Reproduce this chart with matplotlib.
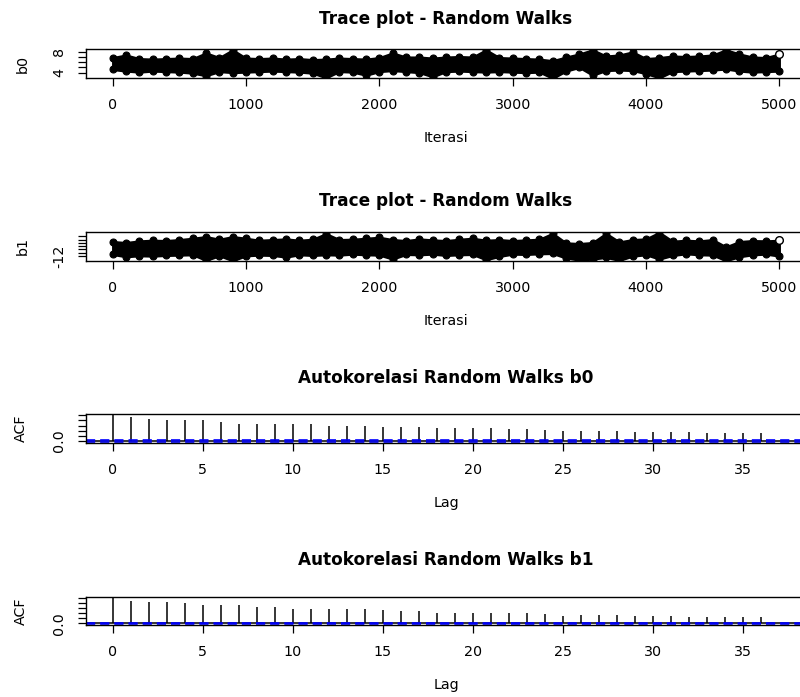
import matplotlib
matplotlib.use("Agg")
import matplotlib.pyplot as plt

# ── Figure geometry (pixels of the 800x697 output) ─────────────────────────
W, H = 800, 697
DPI = 100
AX_LEFT, AX_RIGHT = 86, 806          # plot box runs a little past the right edge

# ── Data ───────────────────────────────────────────────────────────────────
# 5000 draws are far too dense to read one by one; the trace is read as the
# upper and lower edge of the black band every 100 iterations.
ITERATIONS = list(range(0, 5001, 100))

B0_UPPER = [
    6.9, 7.4, 6.7, 6.6, 6.7, 6.8, 6.7, 7.8, 6.9, 8.4,
    6.8, 6.7, 6.8, 6.6, 6.7, 6.5, 6.6, 6.8, 6.7, 6.6,
    6.9, 7.8, 7.0, 7.0, 6.8, 7.0, 7.1, 7.0, 8.4, 6.9,
    6.8, 6.7, 6.6, 6.3, 7.0, 7.6, 8.4, 7.2, 7.4, 8.0,
    6.7, 6.9, 7.2, 7.1, 7.2, 7.4, 8.4, 7.6, 7.0, 6.9,
    7.6,
]
B0_LOWER = [
    4.6, 4.3, 4.1, 4.3, 4.2, 4.1, 3.9, 3.4, 4.2, 4.0,
    4.1, 4.2, 4.3, 4.2, 4.1, 3.9, 3.0, 4.2, 4.1, 3.5,
    4.2, 4.4, 4.2, 4.0, 3.2, 4.2, 4.3, 4.2, 4.1, 4.2,
    4.1, 4.0, 4.1, 2.9, 4.3, 5.0, 3.5, 4.4, 4.5, 4.4,
    3.8, 3.0, 4.2, 4.3, 4.4, 4.5, 4.7, 4.3, 4.1, 4.2,
    4.3,
]

B1_UPPER = [
    -7.6, -7.9, -7.4, -7.2, -7.3, -7.0, -6.6, -6.1, -6.9, -6.1,
    -6.6, -7.2, -7.0, -6.8, -7.2, -6.9, -5.2, -7.0, -6.9, -6.6,
    -6.3, -7.0, -7.3, -6.8, -7.1, -7.3, -6.9, -6.6, -7.2, -7.0,
    -7.3, -7.1, -6.9, -5.1, -8.0, -8.2, -7.9, -5.1, -7.7, -7.0,
    -6.8, -4.8, -7.5, -7.2, -7.4, -7.0, -9.2, -7.6, -7.3, -7.4,
    -7.2,
]
B1_LOWER = [
    -11.5, -12.2, -11.9, -12.0, -11.8, -11.7, -11.6, -13.3, -11.9, -13.4,
    -11.9, -11.7, -11.8, -12.3, -11.6, -11.8, -11.6, -11.7, -11.4, -11.6,
    -11.7, -12.9, -11.5, -11.6, -11.4, -11.8, -11.6, -11.5, -13.1, -12.1,
    -11.4, -11.5, -11.3, -11.2, -12.6, -13.2, -12.9, -12.4, -13.3, -12.0,
    -11.6, -12.9, -11.8, -11.3, -11.6, -11.7, -13.4, -12.2, -11.6, -11.4,
    -12.0,
]

LAGS = list(range(0, 37))
ACF_B0 = [
    1.00, 0.93, 0.87, 0.83, 0.80, 0.80, 0.74, 0.68, 0.68, 0.68,
    0.65, 0.65, 0.59, 0.59, 0.59, 0.53, 0.55, 0.55, 0.50, 0.49,
    0.49, 0.49, 0.45, 0.45, 0.42, 0.37, 0.40, 0.40, 0.40, 0.33,
    0.35, 0.36, 0.33, 0.30, 0.30, 0.30, 0.30,
]
ACF_B1 = [
    1.00, 0.88, 0.84, 0.84, 0.79, 0.73, 0.70, 0.70, 0.63, 0.63,
    0.57, 0.57, 0.55, 0.55, 0.54, 0.51, 0.48, 0.48, 0.41, 0.41,
    0.41, 0.41, 0.39, 0.39, 0.37, 0.29, 0.33, 0.33, 0.33, 0.27,
    0.27, 0.29, 0.23, 0.23, 0.23, 0.23, 0.23,
]
CLIM = 0.028   # 95 % white-noise band

TRACE_XTICKS = [0, 1000, 2000, 3000, 4000, 5000]
B0_YTICKS = [4, 5, 6, 7, 8]
B0_YLABELS = ["4", "", "", "", "8"]
B1_YTICKS = [-12, -11, -10, -9, -8, -7, -6]
B1_YLABELS = ["-12", "", "", "", "", "", ""]
ACF_XTICKS = [0, 5, 10, 15, 20, 25, 30, 35]
ACF_YTICKS = [0.0, 0.2, 0.4, 0.6, 0.8, 1.0]
ACF_YLABELS = ["0.0", "", "", "", "", ""]

TITLE_SIZE = 12.2
LABEL_SIZE = 10.3


def fx(px):
    return px / W


def fy(py):
    return 1 - py / H


def add_box(fig, top, bottom):
    return fig.add_axes([fx(AX_LEFT), fy(bottom), (AX_RIGHT - AX_LEFT) / W,
                         (bottom - top) / H])


def style_axes(ax):
    for s in ax.spines.values():
        s.set_linewidth(1.0)
        s.set_color("black")
    ax.tick_params(direction="out", length=5.8, width=0.9,
                   labelsize=LABEL_SIZE, pad=8.5, colors="black")
    ax.tick_params(axis="y", labelrotation=90)
    for lab in ax.get_yticklabels():
        lab.set_va("center")


def decorate(fig, top, bottom, title, title_base, xlabel, ylabel, ylabel_x):
    fig.text(fx(446), fy(title_base), title, ha="center", va="baseline",
             fontsize=TITLE_SIZE, fontweight="bold")
    fig.text(fx(446), fy(bottom + 64), xlabel, ha="center", va="baseline",
             fontsize=LABEL_SIZE)
    fig.text(fx(ylabel_x), fy((top + bottom) / 2), ylabel, ha="center",
             va="center", rotation=90, fontsize=LABEL_SIZE)


def trace_panel(fig, top, bottom, upper, lower, ylim, yticks, ylabels):
    ax = add_box(fig, top, bottom)
    ax.fill_between(ITERATIONS, lower, upper, facecolor="black",
                    edgecolor="black", linewidth=1.6, joinstyle="round")
    # circles along the edges give the band the lumpy outline of R's points
    for edge in (upper, lower):
        ax.plot(ITERATIONS, edge, linestyle="none", marker="o", ms=5.0,
                mfc="black", mec="black", mew=0.8)
    # last draw shows as an open circle on top of the band
    ax.plot(ITERATIONS[-1:], upper[-1:], linestyle="none", marker="o",
            ms=5.5, mfc="white", mec="black", mew=1.0)
    ax.set_xlim(-200, 5200)
    ax.set_ylim(*ylim)
    ax.set_xticks(TRACE_XTICKS)
    ax.set_xticklabels([str(t) for t in TRACE_XTICKS])
    ax.set_yticks(yticks)
    ax.set_yticklabels(ylabels)
    style_axes(ax)
    return ax


def acf_panel(fig, top, bottom, acf):
    ax = add_box(fig, top, bottom)
    ax.vlines(LAGS, 0, acf, color="black", lw=1.1)
    ax.axhline(0, color="black", lw=1.1)
    for c in (CLIM, -CLIM):
        ax.axhline(c, color="#0000ff", lw=1.2, linestyle=(0, (5.5, 3.0)))
    ax.set_xlim(-1.48, 38.48)
    ax.set_ylim(-0.069, 1.041)
    ax.set_xticks(ACF_XTICKS)
    ax.set_xticklabels([str(t) for t in ACF_XTICKS])
    ax.set_yticks(ACF_YTICKS)
    ax.set_yticklabels(ACF_YLABELS)
    style_axes(ax)
    return ax


fig = plt.figure(figsize=(W / DPI, H / DPI), dpi=DPI)

# b0 trace
trace_panel(fig, 49.3, 78.3, B0_UPPER, B0_LOWER, (2.9, 8.5), B0_YTICKS, B0_YLABELS)
decorate(fig, 49.3, 78.3, "Trace plot - Random Walks", 24.5, "Iterasi", "b0", 23)

# b1 trace
trace_panel(fig, 232, 260.7, B1_UPPER, B1_LOWER, (-13.4, -4.7), B1_YTICKS, B1_YLABELS)
decorate(fig, 232, 260.7, "Trace plot - Random Walks", 206.5, "Iterasi", "b1", 23)

# ACF b0
acf_panel(fig, 414.3, 442.7, ACF_B0)
decorate(fig, 414.3, 442.7, "Autokorelasi Random Walks b0", 382.8, "Lag", "ACF", 21)

# ACF b1
acf_panel(fig, 596.7, 625.0, ACF_B1)
decorate(fig, 596.7, 625.0, "Autokorelasi Random Walks b1", 565, "Lag", "ACF", 21)

fig.savefig("out.png", dpi=DPI)
